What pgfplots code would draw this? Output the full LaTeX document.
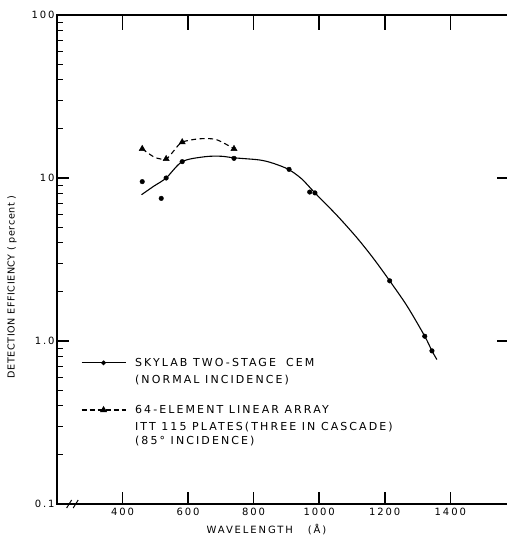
\documentclass[border=0pt]{standalone}
\usepackage{fontspec}
\setmainfont{DejaVu Sans}[LetterSpace=19]
\newfontfamily\ylabfont{DejaVu Sans}[LetterSpace=6]
\usepackage{pgfplots}
\usetikzlibrary{calc}
\pgfplotsset{compat=1.18}
\begin{document}
\begin{tikzpicture}
\begin{axis}[
  scale only axis,
  width=451pt, height=489pt,
  xmin=200, xmax=1576,
  ymode=log, ymin=0.1, ymax=100,
  xtick={400,600,800,1000,1200,1400},
  xticklabels={400,600,800,1000,1200,1400},
  ytick={0.1,1,10,100},
  yticklabels={0.1,1.0,10,100},
  tick label style={font=\fontsize{10}{10}\selectfont},
  x tick label style={yshift=-1pt},
  y tick label style={xshift=1pt},
  tick align=inside,
  major tick length=12pt,
  minor tick length=6pt,
  tick style={draw=black, line width=1.1pt},
  axis line style={line width=1.1pt},
  xtick pos=both,
  ytick pos=left,
  clip mode=individual,
  legend cell align=left,
  legend style={draw=none, fill=none, inner sep=0pt, outer sep=0pt,
    at={(axis description cs:0.0532,0.3006)}, anchor=north west,
    font=\fontsize{11}{15.5}\selectfont, nodes={align=left, inner sep=1pt},
    row sep=18pt, column sep=8pt},
  legend image code/.code={\draw[mark repeat=2,mark phase=2,#1] plot coordinates {(0pt,0pt)(22pt,0pt)(44pt,0pt)};},
]
% fitted curves
\addplot[black, line width=1.1pt, smooth, forget plot] coordinates {
 (458,7.9) (495,8.9) (533,10.0) (582,12.6) (650,13.5) (700,13.6) (740,13.3)
 (818,12.9) (860,12.3) (906,11.3) (946,9.9) (987,8.1) (1054,5.9) (1115,4.3) (1166,3.2)
 (1215,2.34) (1268,1.64) (1322,1.07) (1344,0.87) (1359,0.77)};
\addplot[black, line width=1.1pt, dash pattern=on 5pt off 3.5pt, smooth, forget plot] coordinates {
 (460,15.1) (498,13.4) (533,13.1) (559,14.9) (582,16.6) (635,17.4) (686,17.2) (740,15.1)};
% measured points
\addplot[only marks, mark=*, mark size=2.3pt, black, forget plot] coordinates {
 (460,9.5) (518,7.5) (533,10.0) (582,12.6) (740,13.2) (908,11.3) (971,8.2) (987,8.1)
 (1215,2.34) (1322,1.07) (1344,0.87)};
\addplot[only marks, mark=triangle*, mark size=3.6pt, black, forget plot] coordinates {
 (460,15.1) (533,13.1) (582,16.6) (740,15.1)};
\addlegendimage{black, line width=1.1pt, mark=*, mark size=1.8pt, yshift=8.75pt}
\addlegendentry{SKYLAB TWO-STAGE\hspace{0.4em} CEM\\[2pt](NORMAL INCIDENCE)}
\addlegendimage{black, line width=1.1pt, dash pattern=on 5pt off 3pt, mark=triangle*, mark size=3pt, mark options={solid}, yshift=15.75pt}
\addlegendentry{64-ELEMENT LINEAR ARRAY\\[1.5pt]ITT 115 PLATES(THREE IN CASCADE)\\[-1pt](85° INCIDENCE)}
% axis break marks
\fill[white] (axis cs:233,0.1) ++(0,-3pt) rectangle ([shift={(0,3pt)}]axis cs:261,0.1);
\draw[line width=1pt] (axis cs:237,0.1) ++(-2.5pt,-4pt) -- ++(5pt,8pt);
\draw[line width=1pt] (axis cs:257,0.1) ++(-2.5pt,-4pt) -- ++(5pt,8pt);
\node[font=\ylabfont\fontsize{9.6}{10}\selectfont, rotate=90, anchor=center] at (axis description cs:-0.1,0.444) {DETECTION EFFICIENCY ( percent )};
\node[font=\fontsize{10}{10}\selectfont, anchor=center] at (axis description cs:0.4645,-0.0525) {WAVELENGTH\hspace{15pt}(Å)};
\end{axis}
% tick marks drawn on the frame
\path (current axis.south west) coordinate (SW) (current axis.north west) coordinate (NW) (current axis.south east) coordinate (SE);
\foreach \xx in {65.55,131.1,196.66,262.2,327.76,393.3} {
  \draw[line width=1.5pt, black] ($(SW)+(\xx pt,0)$) -- ++(0,12pt);
  \draw[line width=1.5pt, black] ($(NW)+(\xx pt,0)$) -- ++(0,-15.5pt);
}
\foreach \yy in {163,326} {
  \draw[line width=1.1pt] ($(SW)+(0,\yy pt)$) -- ++(11pt,0);
  \draw[line width=1.1pt] ($(SE)+(0,\yy pt)$) -- ++(-11pt,0);
}
\pgfresetboundingbox
\path ([shift={(-57pt,-37pt)}]current axis.south west) rectangle ([shift={(-1.5pt,15pt)}]current axis.north east);
\end{tikzpicture}
\end{document}
